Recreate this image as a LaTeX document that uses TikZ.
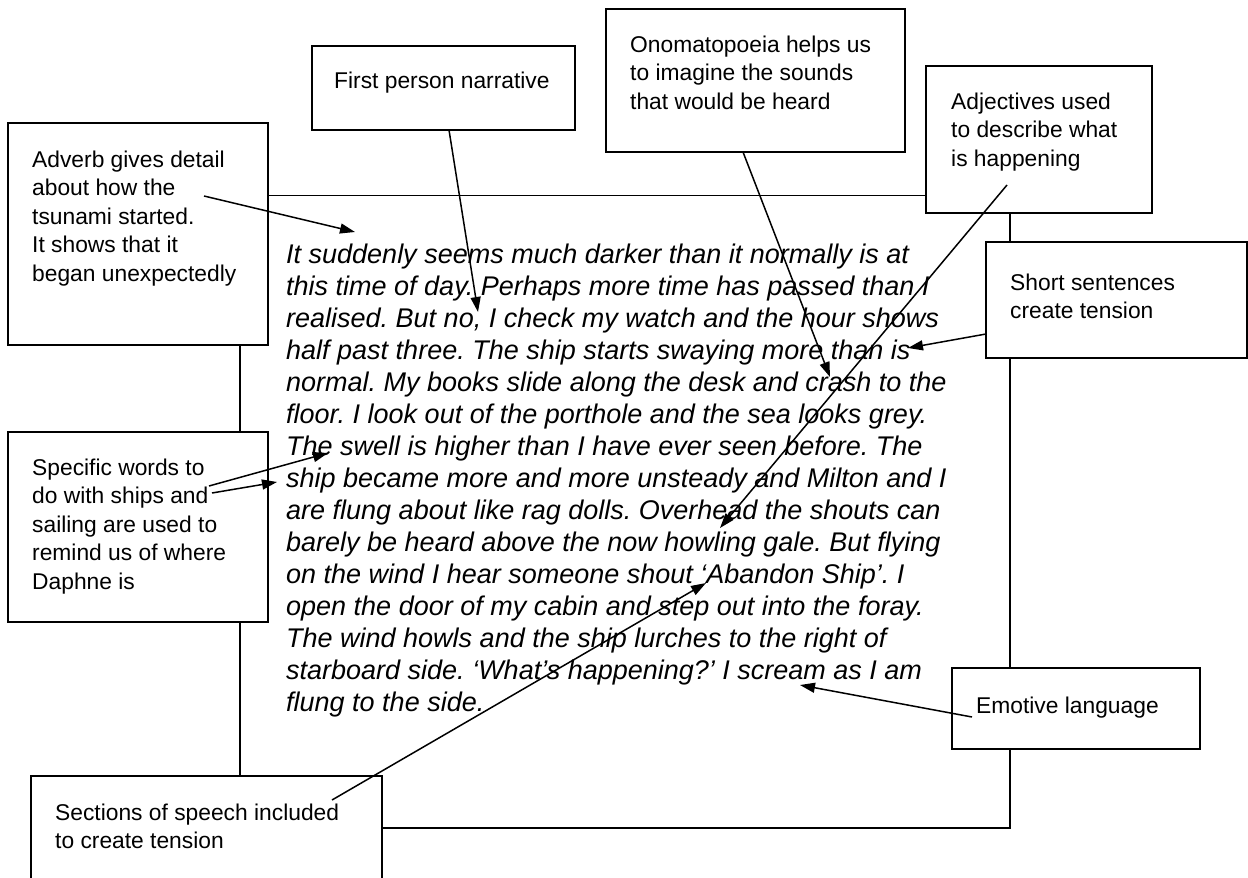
\documentclass[tikz,border=0pt]{standalone}
\usepackage{fontspec}
\setmainfont{Liberation Sans}
\usetikzlibrary{arrows.meta}
\newcommand\mylines[1]{\begin{tabular}[t]{@{}l@{}}#1\end{tabular}}
\frenchspacing
\begin{document}
\begin{tikzpicture}[x=1pt,y=-1pt,
  frame/.style={draw=black,line width=1.6pt,fill=white},
  ann/.style={anchor=base west,inner sep=0pt,font=\fontsize{22.8}{28.5}\selectfont},
  body/.style={anchor=base west,inner sep=0pt,font=\fontsize{27.0}{32}\selectfont\itshape},
  ptr/.style={line width=1.5pt,-{Triangle[length=15pt,width=10pt]}}]
\useasboundingbox (0,0) rectangle (1248,878);
\clip (0,0) rectangle (1248,878);
\fill[white] (0,0) rectangle (1248,878);
% main frame
\draw[frame,fill=none] (240,195.5) rectangle (1010,828);
% annotation frames
\draw[frame] (8,123) rectangle (268,345);
\draw[frame] (312,46) rectangle (575,130);
\draw[frame] (606,9) rectangle (905,152);
\draw[frame] (926,66) rectangle (1152,213);
\draw[frame] (986,242) rectangle (1247,358);
\draw[frame] (8,432) rectangle (268,622);
\draw[frame] (31,776) rectangle (382,900);
\draw[frame] (952,668) rectangle (1200,749);
% body text
\node[body] (txt) at (286,263) {\mylines{%
It suddenly seems much darker than it normally is at\\
this time of day. Perhaps more time has passed than I\\
realised. But no, I check my watch and the hour shows\\
half past three. The ship starts swaying more than is\\
normal. My books slide along the desk and crash to the\\
floor. I look out of the porthole and the sea looks grey.\\
The swell is higher than I have ever seen before. The\\
ship became more and more unsteady and Milton and I\\
are flung about like rag dolls. Overhead the shouts can\\
barely be heard above the now howling gale. But flying\\
on the wind I hear someone shout ‘Abandon Ship’. I\\
open the door of my cabin and step out into the foray.\\
The wind howls and the ship lurches to the right of\\
starboard side. ‘What’s happening?’ I scream as I am\\
flung to the side.}};
% annotation texts
\node[ann] (adv) at (32,167) {\mylines{Adverb gives detail\\about how the\\tsunami started.\\It shows that it\\began unexpectedly}};
\node[ann] (fp) at (334,88) {First person narrative};
\node[ann] (ono) at (630,52) {\mylines{Onomatopoeia helps us\\to imagine the sounds\\that would be heard}};
\node[ann] (adj) at (951,109) {\mylines{Adjectives used\\to describe what\\is happening}};
\node[ann] (sht) at (1010,290) {\mylines{Short sentences\\create tension}};
\node[ann] (spc) at (32,475) {\mylines{Specific words to\\do with ships and\\sailing are used to\\remind us of where\\Daphne is}};
\node[ann] (sec) at (55,820) {\mylines{Sections of speech included\\to create tension}};
\node[ann] (emo) at (976,713) {Emotive language};
% connector ends
\coordinate (advS) at (204,196);  \coordinate (advT) at (355,232);
\coordinate (fpS) at (449,130);   \coordinate (fpT) at (478,312);
\coordinate (onoS) at (743,152);  \coordinate (onoT) at (830,377);
\coordinate (adjS) at (1007,185); \coordinate (adjT) at (720,528);
\coordinate (shtS) at (986,334);  \coordinate (shtT) at (908,348);
\coordinate (spcS1) at (209,486); \coordinate (spcT1) at (328,453);
\coordinate (spcS2) at (212,493); \coordinate (spcT2) at (277,482);
\coordinate (secS) at (332,800);  \coordinate (secT) at (706,583);
\coordinate (emoS) at (972,717);  \coordinate (emoT) at (800,685);
% connectors
\draw[ptr] (advS) -- (advT);
\draw[ptr] (fpS) -- (fpT);
\draw[ptr] (onoS) -- (onoT);
\draw[ptr] (adjS) -- (adjT);
\draw[ptr] (shtS) -- (shtT);
\draw[ptr] (spcS1) -- (spcT1);
\draw[ptr] (spcS2) -- (spcT2);
\draw[ptr] (secS) -- (secT);
\draw[ptr] (emoS) -- (emoT);
\end{tikzpicture}
\end{document}
